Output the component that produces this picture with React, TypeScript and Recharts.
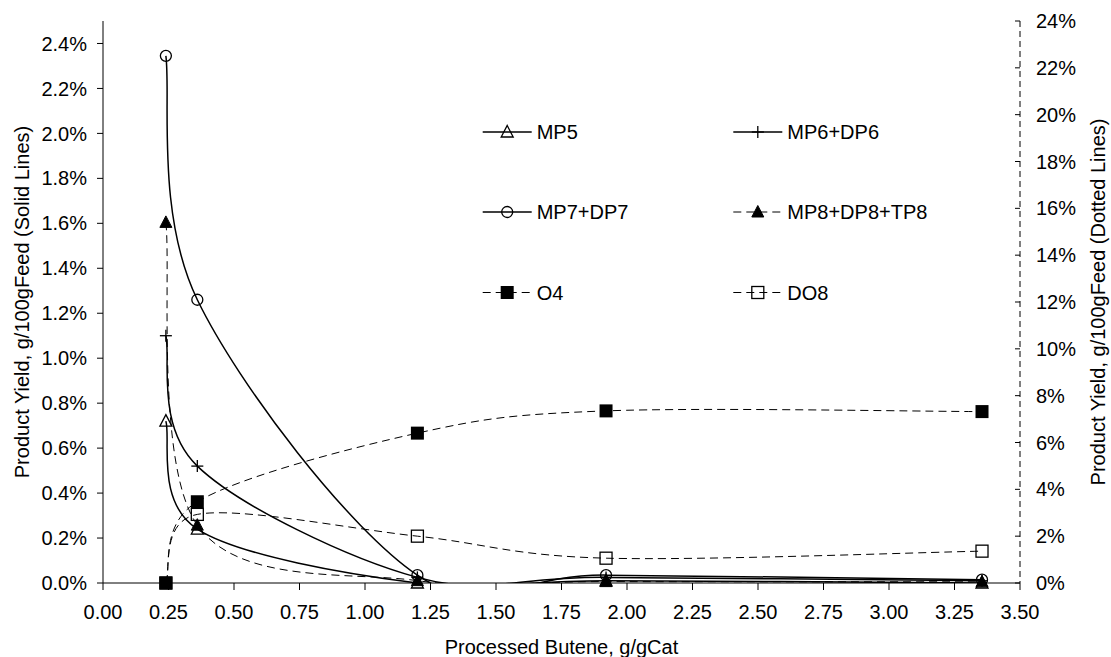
import React from 'react';
import { LineChart, Line, XAxis, YAxis, Legend, Label } from 'recharts';

// ---- data ----
const processedButene = [0.24, 0.36, 1.2, 1.92, 3.355];
const mp5 = [0.72, 0.24, 0.0, 0.01, 0.0];
const mp6dp6 = [1.1, 0.52, 0.025, 0.025, 0.01];
const mp7dp7 = [2.345, 1.26, 0.035, 0.035, 0.015];
const mp8dp8tp8 = [15.4, 2.47, 0.1, 0.06, 0.05];
const o4 = [0, 3.47, 6.4, 7.35, 7.32];
const do8 = [0, 2.93, 2.0, 1.06, 1.36];

const xTicks = [0, 0.25, 0.5, 0.75, 1, 1.25, 1.5, 1.75, 2, 2.25, 2.5, 2.75, 3, 3.25, 3.5];
const leftTicks = [0, 0.2, 0.4, 0.6, 0.8, 1.0, 1.2, 1.4, 1.6, 1.8, 2.0, 2.2, 2.4];
const rightTicks = [0, 2, 4, 6, 8, 10, 12, 14, 16, 18, 20, 22, 24];

const data = processedButene.map((x, i) => ({
  x,
  mp5: mp5[i],
  mp6: mp6dp6[i],
  mp7: mp7dp7[i],
  mp8: mp8dp8tp8[i],
  o4: o4[i],
  do8: do8[i],
}));

const series = [
  { key: 'mp5', name: 'MP5', axis: 'left', dashed: false, shape: 'triOpen' },
  { key: 'mp6', name: 'MP6+DP6', axis: 'left', dashed: false, shape: 'plus' },
  { key: 'mp7', name: 'MP7+DP7', axis: 'left', dashed: false, shape: 'circle' },
  { key: 'mp8', name: 'MP8+DP8+TP8', axis: 'right', dashed: true, shape: 'triFilled' },
  { key: 'o4', name: 'O4', axis: 'right', dashed: true, shape: 'sqFilled' },
  { key: 'do8', name: 'DO8', axis: 'right', dashed: true, shape: 'sqOpen' },
];

const FONT = '"Liberation Sans", Arial, Helvetica, sans-serif';
const FS = 20;
const DASH = '8 5';

// Excel-like smoothed line (Bezier, tension 1/6 with handle clamping)
function excelSmooth(context: any) {
  let pts: number[][] = [];
  return {
    areaStart() {},
    areaEnd() {},
    lineStart() {
      pts = [];
    },
    point(x: number, y: number) {
      pts.push([+x, +y]);
    },
    lineEnd() {
      const n = pts.length;
      if (!n) return;
      context.moveTo(pts[0][0], pts[0][1]);
      for (let i = 0; i < n - 1; i++) {
        const p0 = pts[Math.max(0, i - 1)];
        const p1 = pts[i];
        const p2 = pts[i + 1];
        const p3 = pts[Math.min(n - 1, i + 2)];
        const d12 = Math.hypot(p2[0] - p1[0], p2[1] - p1[1]);
        const d02 = Math.hypot(p2[0] - p0[0], p2[1] - p0[1]);
        const d13 = Math.hypot(p3[0] - p1[0], p3[1] - p1[1]);
        let f = 1 / 6;
        let g = 1 / 6;
        if (d02 > 0 && d02 / 6 > d12 / 2) f = d12 / (2 * d02);
        if (d13 > 0 && d13 / 6 > d12 / 2) g = d12 / (2 * d13);
        context.bezierCurveTo(
          p1[0] + f * (p2[0] - p0[0]),
          p1[1] + f * (p2[1] - p0[1]),
          p2[0] - g * (p3[0] - p1[0]),
          p2[1] - g * (p3[1] - p1[1]),
          p2[0],
          p2[1]
        );
      }
    },
  };
}

function Marker({ shape, cx, cy }: { shape: string; cx: number; cy: number }) {
  if (cx == null || cy == null || isNaN(cx) || isNaN(cy)) return <g />;
  const sw = 1.3;
  switch (shape) {
    case 'triOpen':
      return (
        <polygon
          points={`${cx},${cy - 6.5} ${cx + 6},${cy + 5} ${cx - 6},${cy + 5}`}
          fill="none"
          stroke="#000"
          strokeWidth={sw}
        />
      );
    case 'triFilled':
      return (
        <polygon
          points={`${cx},${cy - 6.5} ${cx + 6},${cy + 5} ${cx - 6},${cy + 5}`}
          fill="#000"
          stroke="#000"
          strokeWidth={1}
        />
      );
    case 'plus':
      return (
        <g stroke="#000" strokeWidth={sw}>
          <line x1={cx - 6} x2={cx + 6} y1={cy} y2={cy} />
          <line x1={cx} x2={cx} y1={cy - 6} y2={cy + 6} />
        </g>
      );
    case 'circle':
      return <circle cx={cx} cy={cy} r={5.5} fill="none" stroke="#000" strokeWidth={sw} />;
    case 'sqFilled':
      return <rect x={cx - 6.5} y={cy - 6.5} width={13} height={13} fill="#000" />;
    case 'sqOpen':
      return (
        <rect x={cx - 6} y={cy - 6} width={12} height={12} fill="none" stroke="#000" strokeWidth={sw} />
      );
    default:
      return <g />;
  }
}

function LegendContent() {
  const rowY = [22, 102, 182.5];
  const colX = [12.7, 263.3];
  return (
    <svg width={440} height={210} style={{ overflow: 'visible' }}>
      {series.map((s, i) => {
        const col = i % 2;
        const row = Math.floor(i / 2);
        const x0 = colX[col];
        const y = rowY[row];
        return (
          <g key={s.key}>
            <line
              x1={x0}
              x2={x0 + 49}
              y1={y}
              y2={y}
              stroke="#000"
              strokeWidth={s.dashed ? 1 : 1.5}
              strokeDasharray={s.dashed ? DASH : undefined}
            />
            <Marker shape={s.shape} cx={x0 + 24.5} cy={y} />
            <text
              x={x0 + 54}
              y={y}
              dy="0.355em"
              fontSize={FS}
              fontFamily={FONT}
              fill="#000"
            >
              {s.name}
            </text>
          </g>
        );
      })}
    </svg>
  );
}

function RightTick(props: any) {
  const { x, y, payload } = props;
  return (
    <g>
      <line x1={x - 21} x2={x - 16} y1={y} y2={y} stroke="#000" strokeWidth={1} />
      <text x={x} y={y} dy="0.355em" textAnchor="start" fontSize={FS} fontFamily={FONT} fill="#000">
        {`${payload.value}%`}
      </text>
    </g>
  );
}

export default function App() {
  return (
    <div
      style={{
        position: 'absolute',
        left: 0,
        top: 0,
        width: 1111,
        height: 657,
        background: '#fff',
        fontFamily: FONT,
      }}
    >
      <LineChart width={1111} height={657} data={data} margin={{ top: 21, right: 0, bottom: 0, left: 0 }}>
        <XAxis
          dataKey="x"
          type="number"
          domain={[0, 3.5]}
          ticks={xTicks}
          interval={0}
          tickFormatter={(v: number) => v.toFixed(2)}
          height={74}
          tickSize={7}
          tickMargin={15}
          stroke="#000"
          axisLine={{ stroke: '#000', strokeWidth: 1 }}
          tickLine={{ stroke: '#000' }}
          tick={{ fontSize: FS, fill: '#000', fontFamily: FONT }}
        >
          <Label
            content={(p: any) => {
              const vb = p.viewBox || { x: 103, y: 583, width: 917, height: 74 };
              return (
                <text
                  x={vb.x + vb.width / 2}
                  y={vb.y + 71}
                  textAnchor="middle"
                  fontSize={FS}
                  fontFamily={FONT}
                  fill="#000"
                >
                  Processed Butene, g/gCat
                </text>
              );
            }}
          />
        </XAxis>
        <YAxis
          yAxisId="left"
          orientation="left"
          type="number"
          domain={[0, 2.5]}
          allowDataOverflow
          ticks={leftTicks}
          interval={0}
          width={103}
          tickSize={6}
          tickMargin={10}
          tickFormatter={(v: number) => `${v.toFixed(1)}%`}
          axisLine={{ stroke: '#000', strokeWidth: 1 }}
          tickLine={{ stroke: '#000' }}
          tick={{ fontSize: FS, fill: '#000', fontFamily: FONT }}
        >
          <Label
            content={(p: any) => {
              const vb = p.viewBox || { x: 0, y: 21, width: 103, height: 562 };
              const cy = vb.y + vb.height / 2;
              return (
                <text
                  transform={`translate(${vb.x + 29},${cy}) rotate(-90)`}
                  textAnchor="middle"
                  fontSize={FS}
                  fontFamily={FONT}
                  fill="#000"
                >
                  Product Yield, g/100gFeed (Solid Lines)
                </text>
              );
            }}
          />
        </YAxis>
        <YAxis
          yAxisId="right"
          orientation="right"
          type="number"
          domain={[0, 24]}
          allowDataOverflow
          ticks={rightTicks}
          interval={0}
          width={91}
          tickSize={0}
          tickMargin={16}
          tickLine={false}
          axisLine={{ stroke: '#000', strokeWidth: 1, strokeDasharray: '6 4' }}
          tick={<RightTick />}
        >
          <Label
            content={(p: any) => {
              const vb = p.viewBox || { x: 1020, y: 21, width: 91, height: 562 };
              const cy = vb.y + vb.height / 2;
              return (
                <text
                  transform={`translate(${vb.x + 85},${cy}) rotate(-90)`}
                  textAnchor="middle"
                  fontSize={FS}
                  fontFamily={FONT}
                  fill="#000"
                >
                  Product Yield, g/100gFeed (Dotted Lines)
                </text>
              );
            }}
          />
        </YAxis>
        <YAxis yAxisId="leftDots" orientation="left" type="number" domain={[0, 2.5]} hide />
        <YAxis yAxisId="rightDots" orientation="right" type="number" domain={[0, 24]} hide />

        {series.map((s) => (
          <Line
            key={`line-${s.key}`}
            yAxisId={s.axis}
            dataKey={s.key}
            name={s.name}
            type={excelSmooth as any}
            stroke="#000"
            strokeWidth={s.dashed ? 1 : 1.5}
            strokeDasharray={s.dashed ? DASH : undefined}
            dot={false}
            activeDot={false}
            legendType="none"
            isAnimationActive={false}
          />
        ))}
        {series.map((s) => (
          <Line
            key={`dots-${s.key}`}
            yAxisId={s.axis === 'left' ? 'leftDots' : 'rightDots'}
            dataKey={s.key}
            name={`${s.name} markers`}
            stroke="none"
            fill="none"
            dot={(p: any) => <Marker key={`${s.key}-${p.index}`} shape={s.shape} cx={p.cx} cy={p.cy} />}
            activeDot={false}
            legendType="none"
            isAnimationActive={false}
          />
        ))}
        <Legend
          layout="vertical"
          align="center"
          verticalAlign="middle"
          content={() => <LegendContent />}
          wrapperStyle={{ left: 470, top: 110, width: 440, height: 210 }}
        />
      </LineChart>
    </div>
  );
}
